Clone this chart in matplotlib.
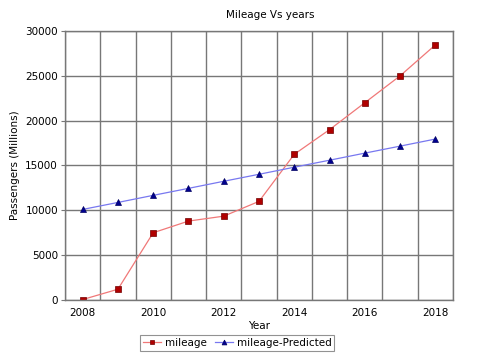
import numpy as np
import matplotlib
matplotlib.use("Agg")
import matplotlib.pyplot as plt

years = [2008, 2009, 2010, 2011, 2012, 2013, 2014, 2015, 2016, 2017, 2018]
mileage = [50, 1200, 7500, 8800, 9350, 11000, 16250, 19000, 22000, 25000, 28450]
predicted = [10100, 10880, 11670, 12450, 13240, 14020, 14810, 15590, 16380, 17160, 17950]
y_ticks = [0, 5000, 10000, 15000, 20000, 25000, 30000]

plt.rcParams['font.family'] = ['DejaVu Sans']
plt.rcParams['font.size'] = 7.5

fig = plt.figure(figsize=(5, 3.56), dpi=100)
ax = fig.add_axes([65 / 500, 1 - 300 / 356, (453 - 65) / 500, (300 - 31) / 356])

x = np.arange(len(years))
ax.plot(x, mileage, color='#f07878', lw=0.9, marker='s', ms=4.5,
        mfc='#b00000', mec='#700000', mew=0.5, label='mileage')
ax.plot(x, predicted, color='#7878f0', lw=0.9, marker='^', ms=5,
        mfc='#000090', mec='#000060', mew=0.5, label='mileage-Predicted')

ax.set_xlim(-0.5, len(years) - 0.5)
ax.set_ylim(0, 30000)
ax.set_yticks(y_ticks)
ax.set_xticks(x[::2])
ax.set_xticklabels([str(y) for y in years[::2]])
ax.set_xticks(np.arange(-0.5, len(years)), minor=True)
ax.grid(False)
ax.grid(True, which='minor', axis='x', color='#777777', lw=1.0)
ax.grid(True, which='major', axis='y', color='#777777', lw=1.0)
ax.set_axisbelow(True)
ax.tick_params(axis='x', which='both', length=0, pad=6)
ax.tick_params(axis='y', length=3, color='#777777', pad=2)
for s in ax.spines.values():
    s.set_color('#777777')
    s.set_linewidth(1.0)

ax.set_title('Mileage Vs years', fontsize=7.5, pad=9, x=0.53)
ax.set_xlabel('Year', labelpad=2)
ax.set_ylabel('Passengers (Millions)', labelpad=4)

leg = fig.legend(loc='center', bbox_to_anchor=(237 / 500, 1 - 343 / 356), ncol=2,
                 frameon=True, fancybox=False, edgecolor='#777777',
                 handlelength=1.8, columnspacing=0.8, borderpad=0.3,
                 handletextpad=0.3, markerscale=0.7, fontsize=7.5)
leg.get_frame().set_linewidth(0.8)

fig.savefig('out.png', dpi=100)
